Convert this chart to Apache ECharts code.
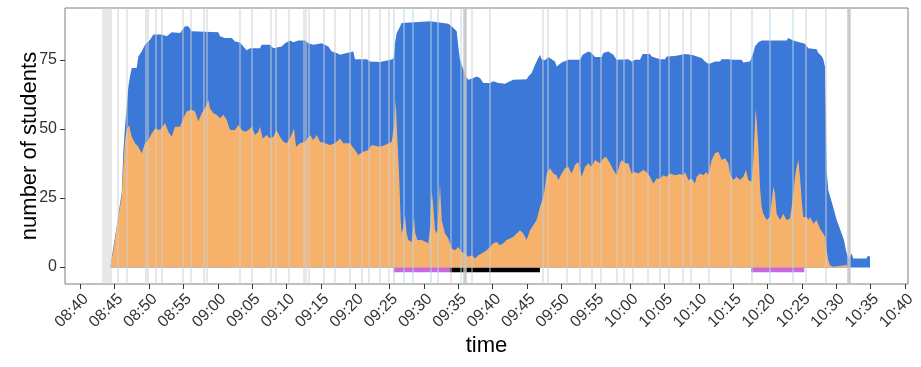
<!DOCTYPE html>
<html>
<head>
<meta charset="utf-8">
<script src="https://cdn.jsdelivr.net/npm/echarts@6/dist/echarts.min.js"></script>
<style>html,body{margin:0;padding:0;background:#fff}#c{width:921px;height:367px}</style>
</head>
<body>
<div id="c"></div>
<script>
// minutes after 08:40
const xTickLabels = ["08:40","08:45","08:50","08:55","09:00","09:05","09:10","09:15","09:20","09:25","09:30","09:35","09:40","09:45","09:50","09:55","10:00","10:05","10:10","10:15","10:20","10:25","10:30","10:35","10:40"];
const xTickStep = 5;
const yTickValues = [0,25,50,75];

// total number of students (blue)
const totalTimes = [4.35,4.81,5.29,5.78,6.02,6.26,6.50,6.75,6.99,7.23,7.48,8.20,8.44,8.93,9.41,10.14,10.63,11.84,12.57,13.30,14.51,15.24,15.72,16.21,20.09,20.33,21.06,22.03,22.51,23.24,23.72,24.21,24.69,26.15,26.39,27.60,28.09,29.30,29.79,30.51,31.00,31.73,32.70,33.18,33.91,35.12,36.09,36.58,37.31,37.79,38.76,39.73,39.97,41.67,42.15,43.61,45.45,45.65,45.79,46.04,46.42,46.77,47.01,50.89,51.13,53.56,54.04,54.77,55.01,55.25,55.74,56.13,56.47,57.19,57.68,58.16,58.65,59.62,60.10,60.83,61.80,62.53,63.01,64.95,65.20,65.68,66.17,66.65,66.90,67.14,67.62,68.11,68.59,69.08,69.32,69.56,70.05,71.02,72.72,73.10,73.93,74.41,74.90,75.87,76.11,76.84,77.57,78.05,79.75,80.24,80.72,81.45,81.83,82.90,83.14,84.36,85.08,85.33,86.54,86.78,88.00,88.97,89.21,90.42,90.91,91.39,91.88,92.36,93.09,93.33,94.30,94.79,96.24,96.48,97.45,97.70,97.94,98.18,98.67,99.15,102.79,103.03,103.76,104.24,104.49,105.46,105.94,107.15,107.40,107.88,108.12,108.37,108.51,108.61,108.85,109.34,109.68,110.07,110.45,110.79,111.13,111.42,111.76,112.25,112.49,114.43,114.53,114.91,114.93];
const totalCounts = [0,7.4,14.6,23.1,26.7,41.8,50.8,58.1,65.3,69.0,72.0,72.0,76.2,78.0,80.4,82.2,84.1,84.1,83.5,84.9,84.7,87.1,87.1,85.3,84.9,83.5,82.9,82.9,81.6,81.2,79.8,78.4,79.2,79.2,80.4,80.4,79.2,79.8,81.0,82.0,81.3,82.0,82.0,81.0,80.4,81.0,79.8,78.0,77.4,76.8,77.4,78.0,75.2,75.2,74.4,74.2,75.2,76.2,81.0,84.7,86.5,88.3,88.9,88.9,88.3,88.0,87.1,85.3,79.8,75.0,71.4,68.9,67.8,68.4,69.0,68.4,66.6,66.6,67.2,66.6,66.3,67.2,67.8,68.0,69.0,70.2,73.2,75.6,76.8,75.2,74.8,76.0,75.2,74.4,72.6,73.2,74.0,75.0,75.0,76.8,78.0,77.4,76.0,76.0,77.4,78.0,76.8,75.0,75.2,74.4,75.0,75.0,77.1,77.1,76.2,75.2,75.2,76.2,76.4,77.1,77.1,76.8,76.2,75.6,74.4,73.6,73.8,74.4,74.4,75.2,75.2,75.0,75.0,74.0,74.4,75.0,77.4,79.8,81.3,82.0,82.0,82.9,82.0,81.6,81.0,80.8,79.2,78.8,77.4,76.4,75.2,72.6,53.3,35.2,27.9,23.7,20.7,17.1,14.6,12.2,9.9,6.2,3.0,5.0,3.2,3.2,4.0,4.0,0];

// subset of students (orange)
const subsetTimes = [4.35,4.81,5.29,5.78,6.02,6.26,6.50,6.75,7.09,7.48,7.96,8.44,8.93,9.17,9.41,9.90,10.39,10.87,11.60,12.33,12.81,13.30,13.78,14.51,14.99,15.48,16.21,16.69,17.18,17.66,18.15,18.63,18.87,19.36,19.84,20.33,20.81,21.30,21.78,22.51,23.00,23.24,23.48,23.97,24.45,24.94,25.42,25.91,26.15,26.54,27.12,27.60,28.09,28.57,29.06,29.55,30.03,30.51,30.90,31.10,31.39,31.97,32.70,33.42,33.91,34.40,34.88,35.61,36.33,37.06,37.79,38.28,39.24,39.97,40.46,41.19,41.91,42.40,43.61,43.85,44.34,45.31,45.65,45.89,46.13,46.42,46.62,46.77,47.01,47.25,47.49,47.74,48.22,48.46,48.56,48.75,49.04,49.67,50.64,50.89,51.13,51.37,51.62,51.95,52.34,52.59,53.07,53.56,54.04,54.53,55.01,55.50,55.98,56.47,56.95,57.44,57.92,58.40,59.13,59.62,60.10,60.59,61.07,61.56,62.04,62.53,63.01,63.50,63.98,64.47,64.95,65.44,65.92,66.41,66.90,67.38,67.62,67.87,68.35,68.84,69.32,69.56,70.05,70.53,71.02,71.50,71.99,72.47,72.96,73.44,73.93,74.41,74.90,75.63,76.11,76.50,77.08,77.57,78.05,78.54,78.78,79.27,79.75,80.24,80.72,81.20,81.93,82.42,82.90,83.39,83.87,84.36,84.84,85.33,85.81,86.54,87.27,87.75,88.00,88.48,88.97,89.45,89.69,90.18,90.66,91.15,91.39,91.88,92.36,92.85,93.33,93.82,94.30,94.54,95.03,95.51,96.00,96.48,96.87,97.21,97.70,97.94,98.28,98.42,98.67,98.91,99.15,99.39,99.88,100.36,100.85,101.09,101.33,101.82,102.30,102.79,103.27,103.52,103.76,104.00,104.24,104.49,104.73,104.97,105.21,105.70,105.94,106.18,106.43,106.67,107.15,107.64,108.12,108.37,108.61,108.85,109.09,109.58,109.80,111.50,111.70];
const subsetCounts = [0,6.2,14.6,21.9,25.5,36.3,46.0,49.6,51.4,47.2,44.8,43.6,41.2,41.8,44.8,46.0,48.4,50.2,49.6,52.1,49.0,47.2,50.8,50.8,53.9,56.3,56.9,56.3,52.7,55.7,57.5,60.5,57.5,55.7,55.1,53.9,55.1,53.3,49.6,49.6,51.4,51.5,49.6,49.0,49.6,50.8,47.8,49.0,50.8,46.6,47.8,46.6,47.2,49.6,47.2,45.4,44.8,46.6,49.0,50.2,43.6,44.8,45.4,47.8,46.0,47.8,45.4,44.8,44.2,44.8,46.6,44.8,44.8,42.4,40.6,41.8,42.4,44.2,43.6,42.9,44.2,45.4,50.8,60.5,47.2,31.6,17.1,12.2,14.6,18.8,12.2,9.9,9.2,14.6,18.2,12.2,9.9,9.9,8.7,14.6,27.9,21.9,13.4,12.2,30.2,17.1,12.2,10.4,6.8,6.2,7.4,5.6,5.0,3.8,4.4,3.2,4.4,5.0,6.2,7.4,8.7,9.2,8.0,8.7,9.9,10.4,11.1,12.2,13.4,12.2,9.9,13.4,15.2,17.1,21.9,25.5,29.1,33.9,35.8,33.9,33.3,31.6,33.9,35.8,36.3,33.9,37.0,38.2,32.7,36.3,37.6,36.3,38.8,37.6,39.4,40.0,37.6,35.2,33.3,37.6,38.8,37.6,37.6,33.9,34.5,33.9,35.2,34.5,32.7,30.3,32.1,32.0,33.3,32.7,33.9,33.3,33.7,33.3,34.5,31.6,32.1,30.3,32.7,33.9,33.3,34.5,33.3,38.8,41.2,41.8,38.8,39.4,37.6,33.9,31.6,32.7,31.6,32.7,35.2,31.6,30.9,38.8,57.5,53.3,43.6,29.1,21.9,19.4,17.1,18.2,29.1,26.7,19.4,17.1,19.4,17.1,17.7,21.9,27.0,32.7,36.3,38.8,32.7,24.3,18.2,18.2,17.1,18.2,17.1,15.8,17.1,14.0,12.2,11.1,6.2,2.6,0.8,0.2,0.9,0.9,0];

// vertical event lines (minutes after 08:40)
const greyLines = [3.25,3.55,3.85,4.15,4.42,5.38,6.75,9.52,9.75,10.97,11.79,14.90,16.01,18.00,18.44,23.14,24.99,27.75,28.38,30.33,32.51,32.80,33.18,35.36,37.06,39.25,40.95,41.91,43.51,44.88,53.94,56.96,59.62,67.29,67.96,70.78,72.61,74.42,75.73,78.06,79.02,80.38,82.57,84.36,85.62,87.66,88.87,91.44,94.64,105.50,108.47];
const blueLines = [45.55,47.05,48.31,50.93,52.01,55.40,97.70,100.35,103.75];
const thickLines = [55.91,111.82];

// phase bars at the bottom: [start, end]
const purpleSpans = [[45.55,53.80],[97.60,105.35]];
const blackSpans = [[53.80,66.89]];

const FONT = '"Liberation Sans", Arial, Helvetica, sans-serif';
const zip = (a, b) => a.map((v, i) => [v, b[i]]);

const lineData = []
  .concat(greyLines.map(v => ({xAxis: v, lineStyle: {color: 'rgba(205,205,205,0.6)', width: 1.6, type: 'solid'}})))
  .concat(blueLines.map(v => ({xAxis: v, lineStyle: {color: 'rgba(173,216,230,0.6)', width: 1.6, type: 'solid'}})))
  .concat(thickLines.map(v => ({xAxis: v, lineStyle: {color: 'rgba(195,195,195,0.85)', width: 3.5, type: 'solid'}})));

const barData = []
  .concat(purpleSpans.map(s => [{xAxis: s[0], yAxis: -1.8, itemStyle: {color: '#cc66dd'}}, {xAxis: s[1], yAxis: 0}]))
  .concat(blackSpans.map(s => [{xAxis: s[0], yAxis: -1.8, itemStyle: {color: '#000000'}}, {xAxis: s[1], yAxis: 0}]));

const hiddenAxis = {axisLine: {show: false}, axisTick: {show: false}, axisLabel: {show: false}, splitLine: {show: false}};
const tickStyle = {show: true, length: 5, lineStyle: {color: '#333333', width: 1}};
const labelStyle = {fontSize: 16, color: '#333333', fontFamily: FONT};

const chart = echarts.init(document.getElementById('c'), null, {renderer: 'canvas'});
chart.setOption({
  animation: false,
  backgroundColor: '#ffffff',
  grid: [
    // data panel
    {left: 65, right: 13, top: 8, bottom: 83, show: true, borderColor: '#7f7f7f', borderWidth: 1, backgroundColor: 'transparent'},
    // time scale ticks (08:40 .. 10:40)
    {left: 80.3, right: 16, top: 8, bottom: 83, show: false},
    // count scale ticks (0 .. 75)
    {left: 65, right: 13, top: 60, bottom: 100, show: false}
  ],
  xAxis: [
    Object.assign({type: 'value', gridIndex: 0, min: -2.23, max: 120.45,
      name: 'time', nameLocation: 'middle', nameGap: 51,
      nameTextStyle: {fontSize: 22, color: '#000000', fontFamily: FONT}}, hiddenAxis),
    {type: 'value', gridIndex: 1, min: 0, max: (xTickLabels.length - 1) * xTickStep, interval: xTickStep,
      axisLine: {show: false}, splitLine: {show: false}, axisTick: tickStyle,
      axisLabel: Object.assign({formatter: v => xTickLabels[Math.round(v / xTickStep)],
        rotate: 45, align: 'right', verticalAlign: 'top', margin: 7, showMinLabel: true, showMaxLabel: true}, labelStyle)},
    Object.assign({type: 'value', gridIndex: 2, min: 0, max: 1}, hiddenAxis)
  ],
  yAxis: [
    Object.assign({type: 'value', gridIndex: 0, min: -6, max: 93.7,
      name: 'number of students', nameLocation: 'middle', nameGap: 24,
      nameTextStyle: {fontSize: 22, color: '#000000', fontFamily: FONT}}, hiddenAxis),
    Object.assign({type: 'value', gridIndex: 1, min: 0, max: 1}, hiddenAxis),
    {type: 'value', gridIndex: 2, min: yTickValues[0], max: yTickValues[yTickValues.length - 1], interval: 25,
      axisLine: {show: false}, splitLine: {show: false}, axisTick: tickStyle,
      axisLabel: Object.assign({margin: 8, showMinLabel: true, showMaxLabel: true}, labelStyle)}
  ],
  series: [
    {type: 'line', data: zip(totalTimes, totalCounts), symbol: 'none', z: 2,
      lineStyle: {width: 0, opacity: 0}, itemStyle: {color: '#3c78d8'},
      areaStyle: {color: '#3c78d8', opacity: 1, origin: 0}},
    {type: 'line', data: zip(subsetTimes, subsetCounts), symbol: 'none', z: 3,
      lineStyle: {width: 0, opacity: 0}, itemStyle: {color: '#f6b26b'},
      areaStyle: {color: '#f6b26b', opacity: 1, origin: 0}},
    {type: 'line', data: [], z: 4, silent: true,
      markArea: {silent: true, data: barData}},
    {type: 'line', data: [], z: 5, silent: true,
      markLine: {silent: true, symbol: ['none', 'none'], label: {show: false}, animation: false, data: lineData}}
  ]
});
</script>
</body>
</html>
